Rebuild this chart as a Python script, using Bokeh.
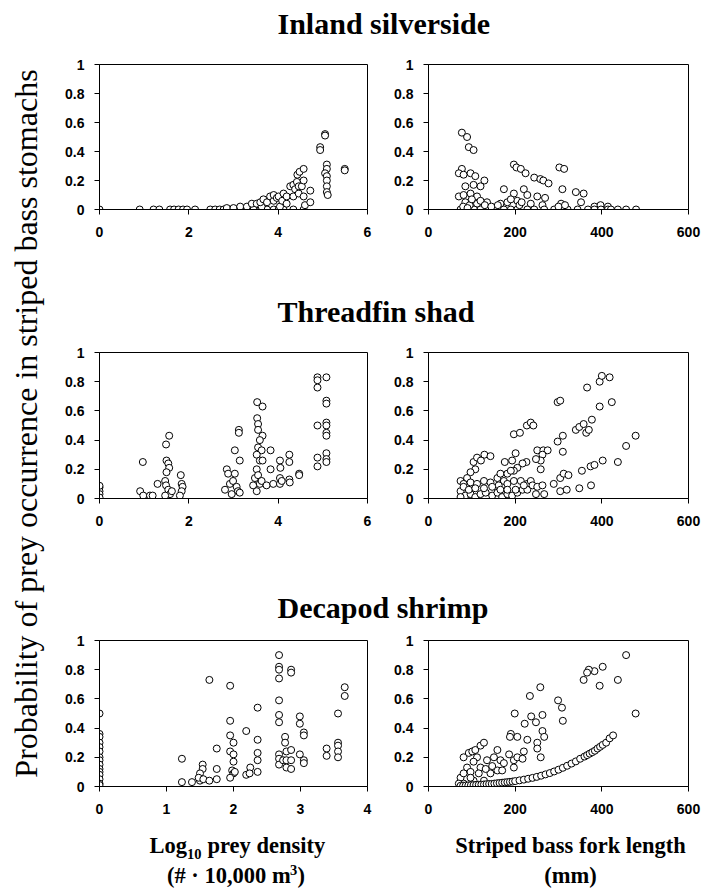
import math
from bokeh.plotting import figure
from bokeh.models import Range1d, FixedTicker, Label, ColumnDataSource
from bokeh.layouts import row, column
from bokeh.embed import file_html
from bokeh.resources import INLINE

# ---------------- data ----------------
panel_titles = ["Inland silverside", "Threadfin shad", "Decapod shrimp"]
y_ticks = [0, 0.2, 0.4, 0.6, 0.8, 1]
dens_ticks_a = [0, 2, 4, 6]
dens_ticks_c = [0, 1, 2, 3, 4]
len_ticks = [0, 200, 400, 600]

# Inland silverside vs log10 prey density
is_dens_x = [0, 0.90, 1.21, 1.34, 1.58, 1.67, 1.77, 1.87, 1.96, 2.14, 2.48, 2.59, 2.69, 2.78, 2.89, 2.96,
             3.07, 3.19, 3.30, 3.45, 3.60, 3.75, 3.90, 4.01, 4.12, 4.34, 4.57,
             2.85, 3.00, 3.15, 3.30, 3.41, 3.52, 3.63, 3.60, 3.67, 3.75, 3.82, 3.90, 3.90, 3.97, 4.01, 4.04,
             4.09, 4.12, 4.19, 4.19, 4.27, 4.34, 4.34, 4.38, 4.42, 4.43, 4.46, 4.46, 4.48, 4.53, 4.57, 4.57,
             4.57, 4.60, 4.72, 4.72,
             4.94, 4.94, 5.05, 5.05, 5.09, 5.09, 5.05, 5.09, 5.09, 5.09, 5.09, 5.11, 5.49, 5.49]
is_dens_y = [0] * 27 + \
            [0.01, 0.01, 0.02, 0.02, 0.04, 0.04, 0.02, 0.05, 0.07, 0.05, 0.09, 0.06, 0.10, 0.08, 0.09, 0.02,
             0.06, 0.11, 0.04, 0.09, 0.16, 0.09, 0.17, 0.14, 0.19, 0.24, 0.11, 0.16, 0.26, 0.16, 0.28, 0.20,
             0.09, 0.03, 0.13, 0.05,
             0.43, 0.41, 0.52, 0.51, 0.31, 0.28, 0.25, 0.23, 0.20, 0.16, 0.12, 0.10, 0.28, 0.27]

# Inland silverside vs fork length
is_len_x = [77, 89, 93, 104, 77, 70, 81, 97, 108, 129, 120, 104, 85, 70, 81, 97, 112, 174, 197, 203, 213,
            224, 244, 258, 265, 277, 302, 313, 309, 340, 358, 352, 220, 251, 269, 197, 228, 383, 397, 414,
            306, 166, 135, 112, 182, 205, 236, 263,
            74, 89, 105, 120, 136, 151, 174, 190, 205, 228, 244, 267, 290, 306, 321, 344, 368, 383, 398,
            414, 421, 437, 456, 479,
            85, 95, 100, 120, 130, 145, 160, 190, 210, 215, 300, 315, 80, 90]
is_len_y = [0.53, 0.50, 0.43, 0.41, 0.28, 0.25, 0.24, 0.25, 0.23, 0.20, 0.16, 0.17, 0.16, 0.09, 0.10, 0.11,
            0.09, 0.14, 0.31, 0.29, 0.28, 0.25, 0.22, 0.21, 0.20, 0.18, 0.29, 0.28, 0.14, 0.12, 0.11, 0.05,
            0.14, 0.09, 0.08, 0.11, 0.10, 0.02, 0.03, 0.02, 0.04, 0.04, 0.05, 0.04, 0.05, 0.06, 0.04, 0.03] + \
           [0] * 24 + \
           [0.05, 0.03, 0.07, 0.06, 0.03, 0.02, 0.03, 0.07, 0.03, 0.05, 0.02, 0.03, 0.02, 0.01]

# Threadfin shad vs log10 prey density
ts_dens_x = [0, 0, 0, 0, 0, 0.97, 0.91, 0.98, 1.13, 1.19, 1.30,
             1.56, 1.49, 1.50, 1.54, 1.56, 1.50, 1.47, 1.49, 1.54, 1.58, 1.47, 1.62,
             1.82, 1.84, 1.86, 1.84, 1.80,
             2.85, 2.88, 2.81, 2.92, 2.99, 3.03, 3.07, 3.10, 3.12, 3.12, 3.14, 3.03, 3.14, 2.96,
             3.52, 3.53, 3.53, 3.65, 3.55, 3.55, 3.65, 3.59, 3.55, 3.63, 3.52, 3.59, 3.65, 3.48, 3.55, 3.44,
             3.59, 3.63, 3.74, 3.52,
             3.83, 3.83, 3.89, 4.04, 4.04, 4.05, 4.04, 4.08, 4.25, 4.25, 4.25, 4.26, 4.47, 4.47,
             4.88, 4.88, 4.88, 4.88, 4.88, 4.88, 5.08, 5.08, 5.08, 5.08, 5.08, 5.08, 5.08, 5.08, 5.08, 5.08]
ts_dens_y = [0.076, 0.05, 0.03, 0.007, 0.087, 0.25, 0.05, 0.02, 0.02, 0.02, 0.10,
             0.43, 0.37, 0.26, 0.24, 0.21, 0.18, 0.12, 0.09, 0.06, 0.03, 0.02, 0.05,
             0.16, 0.10, 0.08, 0.05, 0.02,
             0.20, 0.17, 0.06, 0.10, 0.12, 0.17, 0.08, 0.05, 0.47, 0.45, 0.26, 0.33, 0.04, 0.03,
             0.20, 0.55, 0.66, 0.63, 0.51, 0.47, 0.43, 0.40, 0.35, 0.33, 0.30, 0.26, 0.26, 0.14, 0.16, 0.09,
             0.10, 0.12, 0.09, 0.05,
             0.33, 0.20, 0.10, 0.10, 0.26, 0.21, 0.14, 0.12, 0.30, 0.25, 0.13, 0.11, 0.17, 0.16,
             0.83, 0.81, 0.76, 0.50, 0.28, 0.22, 0.83, 0.67, 0.65, 0.52, 0.50, 0.45, 0.43, 0.31, 0.27, 0.25]

# Threadfin shad vs fork length
ts_len_x = [197, 211, 227, 236, 242, 298, 304, 366, 395, 400, 418,
            298, 310, 310, 340, 348, 358, 364, 370, 377, 395, 423, 251, 265, 275, 263, 259, 259, 248, 226,
            217, 201, 193, 205, 197, 176,
            289, 304, 312, 323, 304, 319, 348, 354, 374, 383, 402, 437, 456, 478, 375,
            104, 112, 129, 143, 121, 108, 97, 89, 74, 81, 97, 112, 128, 143, 159, 166, 182, 190, 174, 162,
            182, 197, 213, 228, 236,
            74, 85, 97, 108, 120, 132, 147, 159, 170, 182, 193, 205, 217, 228, 240, 251, 263, 248, 267,
            74, 81, 93, 108, 128, 147, 166, 182, 201, 220]
ts_len_y = [0.44, 0.45, 0.50, 0.52, 0.50, 0.66, 0.67, 0.76, 0.80, 0.84, 0.83,
            0.39, 0.43, 0.32, 0.47, 0.49, 0.51, 0.45, 0.47, 0.54, 0.63, 0.66, 0.33, 0.33, 0.33, 0.30, 0.26,
            0.20, 0.27, 0.25, 0.24, 0.31, 0.26, 0.21, 0.19, 0.25,
            0.10, 0.14, 0.17, 0.16, 0.05, 0.06, 0.07, 0.19, 0.22, 0.23, 0.26, 0.25, 0.36, 0.43, 0.09,
            0.25, 0.28, 0.30, 0.29, 0.26, 0.20, 0.18, 0.14, 0.12, 0.10, 0.11, 0.10, 0.12, 0.11, 0.14, 0.17,
            0.17, 0.19, 0.12, 0.09, 0.10, 0.12, 0.12, 0.10, 0.12,
            0.05, 0.02, 0.03, 0.01, 0.03, 0.04, 0.02, 0.04, 0.01, 0.03, 0.02, 0.04, 0.06, 0.06, 0.09, 0.08,
            0.09, 0.03, 0.03,
            0.01, 0.08, 0.06, 0.07, 0.07, 0.08, 0.06, 0.06, 0.06, 0.09]

# Decapod shrimp vs log10 prey density
ds_dens_x = [0] * 15 + \
            [1.23, 1.23, 1.38, 1.50, 1.54, 1.54, 1.50, 1.48, 1.55, 1.64, 1.64, 1.75, 1.75, 1.75,
             1.95, 1.95, 1.95, 2.00, 1.95, 2.00, 2.00, 1.98, 2.00, 1.95, 2.02,
             2.19, 2.19, 2.25, 2.24, 2.36, 2.36, 2.36, 2.36, 2.36,
             2.68, 2.68, 2.68, 2.68, 2.68, 2.68, 2.68, 2.68, 2.68, 2.68, 2.74,
             2.77, 2.77, 2.79, 2.79, 2.79, 2.86, 2.86, 2.86, 2.86, 2.86,
             2.99, 2.99, 2.99, 3.05, 3.05, 3.05, 3.05,
             3.39, 3.39, 3.56, 3.56, 3.56, 3.56, 3.56, 3.66, 3.66]
ds_dens_y = [0.50, 0.36, 0.34, 0.30, 0.27, 0.24, 0.20, 0.18, 0.15, 0.12, 0.10, 0.08, 0.05, 0.02, 0.01,
             0.19, 0.03, 0.03, 0.04, 0.15, 0.12, 0.09, 0.06, 0.05, 0.73, 0.04, 0.26, 0.12, 0.05,
             0.69, 0.45, 0.35, 0.30, 0.24, 0.22, 0.17, 0.11, 0.09, 0.06, 0.10,
             0.38, 0.08, 0.13, 0.09, 0.54, 0.32, 0.23, 0.18, 0.10,
             0.90, 0.82, 0.80, 0.74, 0.59, 0.49, 0.44, 0.22, 0.19, 0.15, 0.18,
             0.34, 0.30, 0.24, 0.18, 0.13, 0.80, 0.78, 0.25, 0.18, 0.12,
             0.48, 0.43, 0.22, 0.37, 0.35, 0.18, 0.16,
             0.26, 0.21, 0.50, 0.30, 0.28, 0.24, 0.20, 0.68, 0.62]

# Decapod shrimp vs fork length
ds_len_x = [456, 402, 437, 395, 478, 383, 370, 366, 358, 258, 234, 299, 308, 310, 263, 237, 248, 222, 199,
            190, 188, 205, 263, 267, 251, 251, 259, 228, 220, 197, 197, 186, 205, 217,
            81, 93, 101, 108, 120, 128, 112, 104, 89, 74, 81, 97, 120, 135, 151, 159, 166, 159, 143, 128,
            104, 81, 70, 97, 116, 132, 147, 170, 174, 112,
            74, 80, 86, 92, 98, 104, 110, 116, 122, 128, 134, 140, 146, 152, 158, 164, 170, 176, 182, 188,
            194, 200, 210, 220, 230, 240, 250, 260, 270, 280, 290, 300, 310, 320, 330, 340, 350, 360, 366,
            372, 378, 384, 390, 396, 402, 410, 418, 426]
ds_len_y = [0.90, 0.82, 0.73, 0.69, 0.50, 0.79, 0.80, 0.78, 0.73, 0.68, 0.62, 0.59, 0.54, 0.45, 0.49, 0.48,
            0.44, 0.43, 0.50, 0.36, 0.34, 0.34, 0.38, 0.34, 0.30, 0.26, 0.20, 0.32, 0.24, 0.18, 0.13, 0.22,
            0.20, 0.19,
            0.20, 0.23, 0.24, 0.25, 0.28, 0.30, 0.20, 0.17, 0.13, 0.06, 0.09, 0.10, 0.13, 0.18, 0.20, 0.25,
            0.18, 0.11, 0.09, 0.04, 0.04, 0.02, 0.02, 0.06, 0.09, 0.12, 0.14, 0.11, 0.16, 0.01,
            0.005, 0.006, 0.007, 0.008, 0.009, 0.010, 0.011, 0.012, 0.013, 0.014, 0.016, 0.017, 0.018, 0.020,
            0.022, 0.024, 0.026, 0.028, 0.030, 0.032, 0.034, 0.037, 0.042, 0.047, 0.053, 0.059, 0.066,
            0.074, 0.083, 0.092, 0.103, 0.115, 0.128, 0.142, 0.157, 0.172, 0.190, 0.205, 0.215, 0.225,
            0.235, 0.245, 0.260, 0.272, 0.285, 0.300, 0.330, 0.350]

# ---------------- styling helpers ----------------
TICK_FONT = "Liberation Sans"
SERIF = "Liberation Serif"
BASE_SHIFT = 0.34  # compensation for where the svg backend puts the alphabetic baseline


def panel(xs, ys, x_end, xticks, w, h, bl, br, bt, bb):
    p = figure(width=w, height=h, x_range=Range1d(0, x_end), y_range=Range1d(0, 1),
               min_border_left=bl, min_border_right=br, min_border_top=bt, min_border_bottom=bb,
               toolbar_location=None, output_backend="svg")
    p.title.visible = False
    p.grid.visible = False
    p.outline_line_color = "black"
    p.outline_line_width = 1
    p.background_fill_color = "white"
    p.border_fill_color = "white"
    p.xaxis.ticker = FixedTicker(ticks=xticks)
    p.yaxis.ticker = FixedTicker(ticks=y_ticks)
    p.yaxis.major_label_overrides = {0: "0", 1: "1"}
    for ax in (p.xaxis[0], p.yaxis[0]):
        ax.axis_line_color = "black"
        ax.axis_line_width = 1
        ax.major_tick_out = 5
        ax.major_tick_in = 0
        ax.minor_tick_out = 0
        ax.minor_tick_in = 0
        ax.major_tick_line_color = "black"
        ax.major_label_text_font = TICK_FONT
        ax.major_label_text_font_style = "bold"
        ax.major_label_text_font_size = "14px"
        ax.major_label_text_color = "black"
    p.xaxis.major_label_standoff = 12
    p.yaxis.major_label_standoff = 10
    src = ColumnDataSource(dict(x=xs, y=ys))
    p.scatter(x="x", y="y", source=src, marker="circle", size=7,
              fill_color="white", line_color="black", line_width=1)
    return p


def textfig(w, h):
    p = figure(width=w, height=h, x_range=Range1d(0, w), y_range=Range1d(h, 0),
               min_border=0, toolbar_location=None, output_backend="svg",
               x_axis_location=None, y_axis_location=None)
    p.title.visible = False
    p.grid.visible = False
    p.outline_line_color = None
    p.background_fill_color = "white"
    p.border_fill_color = "white"
    return p


def add_text(p, x, baseline, text, size, bold=True, align="left"):
    p.add_layout(Label(x=x, y=baseline - BASE_SHIFT * size, text=text, text_font=SERIF,
                       text_font_style="bold" if bold else "normal",
                       text_font_size=f"{size}px", text_align=align,
                       text_baseline="alphabetic", text_color="black"))


def title_fig(text, h, baseline):
    p = textfig(651, h)
    add_text(p, 227, baseline, text, 30)
    return p


LW, RW = 335, 316

t1 = title_fig(panel_titles[0], 44, 33)
p1l = panel(is_dens_x, is_dens_y, 6, dens_ticks_a, LW, 204, 49, 18, 20, 39)
p1r = panel(is_len_x, is_len_y, 600, len_ticks, RW, 204, 43, 13, 20, 39)

t2 = title_fig(panel_titles[1], 87, 73)
p2l = panel(ts_dens_x, ts_dens_y, 6, dens_ticks_a, LW, 203, 49, 18, 17, 40)
p2r = panel(ts_len_x, ts_len_y, 600, len_ticks, RW, 203, 43, 13, 17, 40)

t3 = title_fig(panel_titles[2], 87, 79)
p3l = panel(ds_dens_x, ds_dens_y, 4, dens_ticks_c, LW, 201, 49, 18, 15, 40)
p3r = panel(ds_len_x, ds_len_y, 600, len_ticks, RW, 201, 43, 13, 15, 40)

# bottom axis titles
BH = 66
bot = textfig(651, BH)
fs, sub = 22.5, 14.5
add_text(bot, 99, 27, "Log", fs)
add_text(bot, 136.5, 32, "10", sub)
add_text(bot, 157, 27, "prey density", fs)
add_text(bot, 116.5, 57, "(# \u00b7 10,000 m", fs)
add_text(bot, 239.5, 48, "3", sub)
add_text(bot, 247, 57, ")", fs)
add_text(bot, 520, 27, "Striped bass fork length", fs, align="center")
add_text(bot, 520, 57, "(mm)", fs, align="center")

# rotated y-axis title
YH = 44 + 204 + 87 + 203 + 87 + 201 + BH
ylab = textfig(50, YH)
ylab.add_layout(Label(x=36 - BASE_SHIFT * 32, y=423,
                      text="Probability of prey occurrence in striped bass stomachs",
                      angle=math.pi / 2, text_font=SERIF, text_font_size="32px", text_align="center",
                      text_baseline="alphabetic", text_color="black"))

layout = row(ylab, column(t1, row(p1l, p1r), t2, row(p2l, p2r), t3, row(p3l, p3r), bot))

open("out.html", "w").write(file_html(layout, INLINE))
